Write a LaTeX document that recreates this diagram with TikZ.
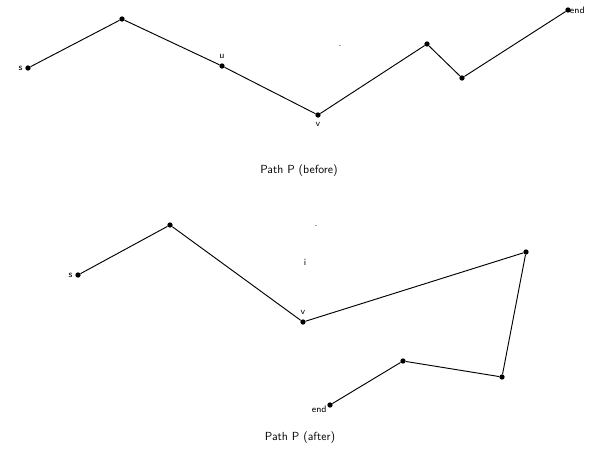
\documentclass[tikz,border=0pt]{standalone}
\usepackage{tikz}
\usetikzlibrary{positioning, calc}

\begin{document}
\begin{tikzpicture}[
    x=0.03cm, y=-0.03cm,
    every node/.style={font=\tiny\sffamily, align=center},
    vertex/.style={circle, fill=black, inner sep=0pt, minimum size=4.5pt},
    edge/.style={draw=black, thick},
    caption/.style={font=\normalsize\sffamily},
    tag/.style={font=\footnotesize\sffamily, inner sep=1pt},
]
% === FRAME ===
\useasboundingbox (0,0) rectangle (595,470);

% === PATH BEFORE ===
\node[vertex] (b1) at (28,68) {};
\node[vertex] (b2) at (122,19) {};
\node[vertex] (b3) at (222,66) {};
\node[vertex] (b4) at (318,115) {};
\node[vertex] (b5) at (427,44) {};
\node[vertex] (b6) at (462,78) {};
\node[vertex] (b7) at (568,10) {};

\node[tag, left=1pt of b1] {s};
\node[tag, above=3pt of b3] {u};
\node[tag, below=3pt of b4] {v};
\node[tag, right=-2pt of b7] {end};
\node[tag] (bdot) at (340,46) {.};

\draw[edge] (b1) -- (b2) -- (b3) -- (b4) -- (b5) -- (b6) -- (b7);

\node[caption] (before) at (299,171) {Path P (before)};

% === PATH AFTER ===
\node[vertex] (a1) at (78,275) {};
\node[vertex] (a2) at (170,225) {};
\node[vertex] (a3) at (303,322) {};
\node[vertex] (a4) at (526,252) {};
\node[vertex] (a5) at (502,377) {};
\node[vertex] (a6) at (403,361) {};
\node[vertex] (a7) at (330,405) {};

\node[tag, left=1pt of a1] {s};
\node[tag, above=3pt of a3] {v};
\node[tag, below left=-2pt and 0pt of a7] {end};
\node[tag] (adot1) at (316,226) {.};
\node[tag] (adot2) at (305,262) {i};

\draw[edge] (a1) -- (a2) -- (a3) -- (a4) -- (a5) -- (a6) -- (a7);

\node[caption] (after) at (300,438) {Path P (after)};
\end{tikzpicture}
\end{document}
